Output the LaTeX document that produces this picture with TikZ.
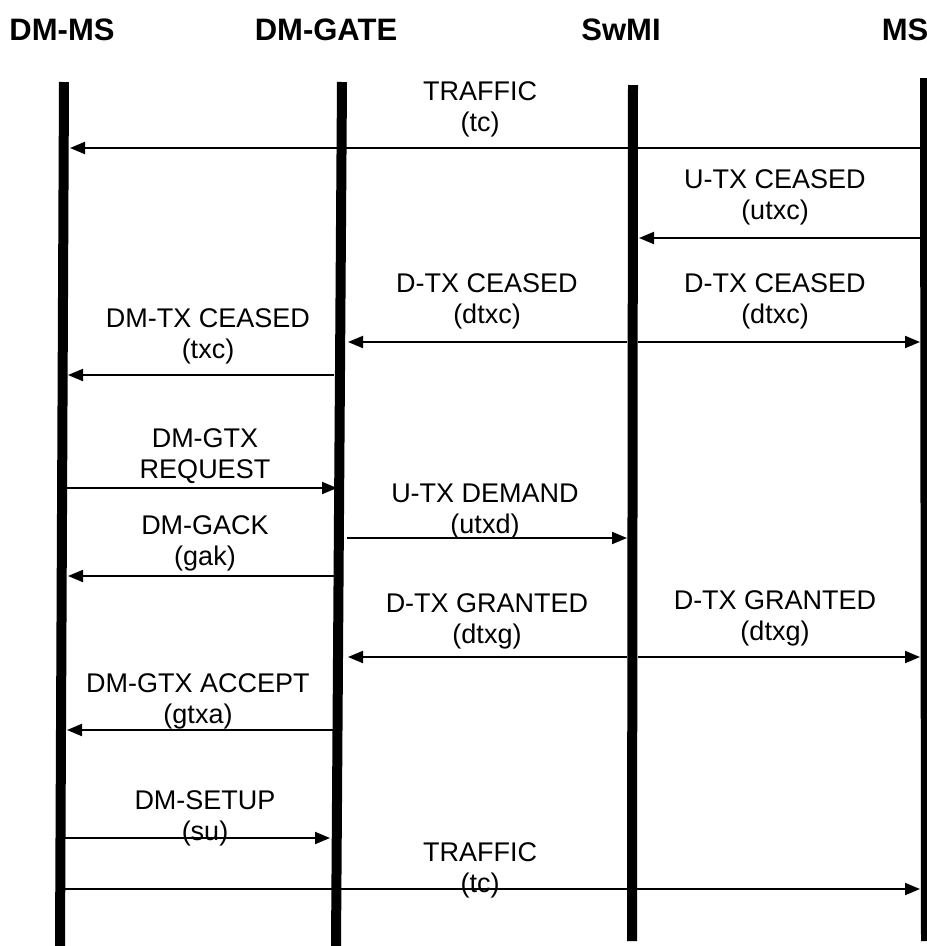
\documentclass[tikz,border=0pt]{standalone}
\usepackage{fontspec}
\setmainfont{Liberation Sans}
\usetikzlibrary{arrows.meta}

\tikzset{
  lifeline/.style={line width=10pt},
  msg/.style={line width=2pt, -{Triangle[length=15pt,width=12pt]}},
  lbl/.style={font=\fontsize{27}{31}\selectfont, align=center, inner sep=0pt},
  actor/.style={font=\bfseries\fontsize{31}{34}\selectfont, inner sep=0pt}
}

\begin{document}
\begin{tikzpicture}[x=1pt, y=-1pt]
        \useasboundingbox (0,0) rectangle (927,946);

        % Actors
        \node[actor] (dmms) at (62,30) {DM-MS};
        \node[actor] (gate) at (326,30) {DM-GATE};
        \node[actor] (swmi) at (621,30) {SwMI};
        \node[actor] (ms) at (905,30) {MS};

        % Lifelines (slightly slanted, as in the scan)
        \coordinate (dmmsT) at (64,82);  \coordinate (dmmsB) at (60,946);
        \coordinate (gateT) at (342,82); \coordinate (gateB) at (336,946);
        \coordinate (swmiT) at (633,85); \coordinate (swmiB) at (632,941);
        \coordinate (msT) at (925,78);   \coordinate (msB) at (926,941);
        \foreach \l in {dmms,gate,swmi,ms}
            \draw[lifeline] (\l T) -- (\l B);

        % Message end points: name/from/to/y
        \foreach \n/\a/\b/\y in {tca/920/70/148, utxc/920/639/238,
                dtxcl/627/348/342, dtxcr/638/920/342, txc/334/68/375,
                gtxr/66/337/488, utxd/347/627/538, gak/334/68/576,
                dtxgl/627/348/657, dtxgr/638/920/657, gtxa/333/67/730,
                su/64/330/838, tcb/64/920/889} {
            \coordinate (\n-s) at (\a,\y);
            \coordinate (\n-e) at (\b,\y);
        }

        % Messages
        \foreach \n in {tca,utxc,dtxcl,dtxcr,txc,gtxr,utxd,gak,dtxgl,dtxgr,gtxa,su,tcb}
            \draw[msg] (\n-s) -- (\n-e);

        % Labels
        \node[lbl] (tcaL) at (480,109) {TRAFFIC\\(tc)};
        \node[lbl] (utxcL) at (775,197) {U-TX CEASED\\(utxc)};
        \node[lbl] (dtxclL) at (487,301) {D-TX CEASED\\(dtxc)};
        \node[lbl] (dtxcrL) at (775,301) {D-TX CEASED\\(dtxc)};
        \node[lbl] (txcL) at (208,336) {DM-TX CEASED\\(txc)};
        \node[lbl] (gtxrL) at (205,456) {DM-GTX\\REQUEST};
        \node[lbl] (utxdL) at (485,511) {U-TX DEMAND\\(utxd)};
        \node[lbl] (gakL) at (205,543) {DM-GACK\\(gak)};
        \node[lbl] (dtxglL) at (487,621) {D-TX GRANTED\\(dtxg)};
        \node[lbl] (dtxgrL) at (775,618) {D-TX GRANTED\\(dtxg)};
        \node[lbl] (gtxaL) at (198,701) {DM-GTX ACCEPT\\(gtxa)};
        \node[lbl] (suL) at (205,818) {DM-SETUP\\(su)};
        \node[lbl] (tcbL) at (480,870) {TRAFFIC\\(tc)};
    \end{tikzpicture}
\end{document}
